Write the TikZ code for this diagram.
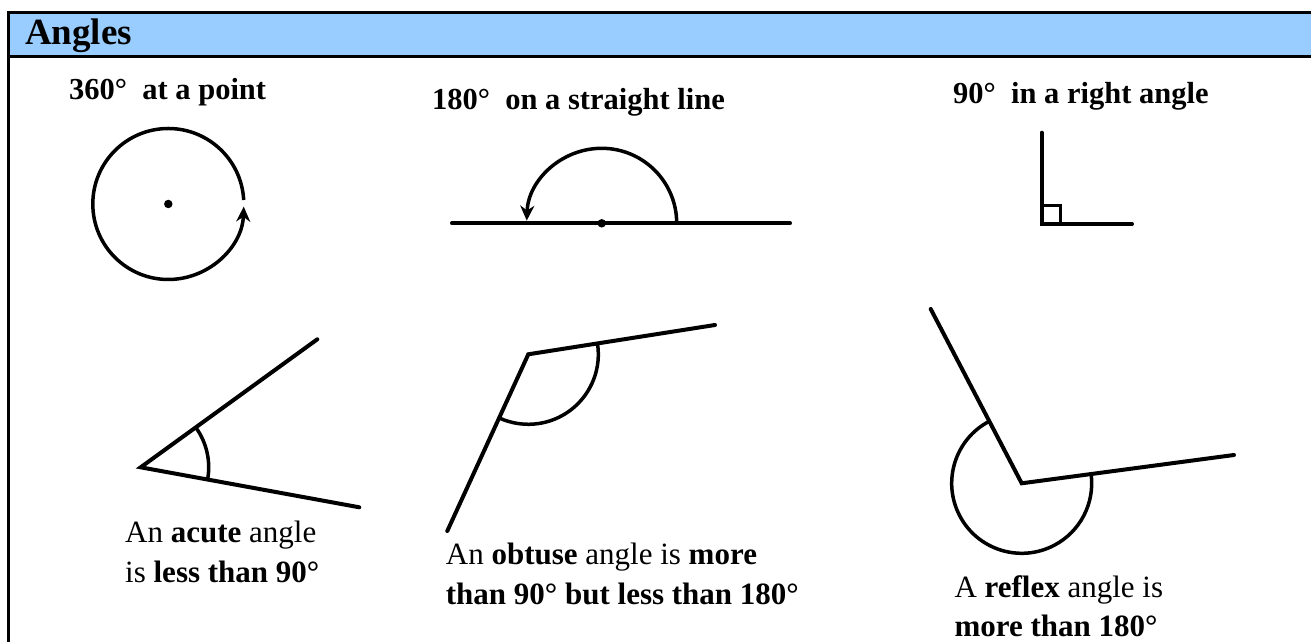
\documentclass[tikz,border=0pt]{standalone}
\usepackage{fontspec}
\setmainfont{Liberation Serif}
\usepackage{xcolor}
\definecolor{headblue}{RGB}{153,204,255}
\usepackage{tikz}
\usetikzlibrary{arrows.meta}

\begin{document}
\begin{tikzpicture}[x=1pt, y=1pt,
    arm/.style={line width=4pt, line cap=round},
    anglearc/.style={line width=3.5pt},
    frameline/.style={line width=3.3pt},
    heading/.style={anchor=base west, inner sep=0pt,
      font=\fontsize{30.5}{36}\selectfont\bfseries},
    caption/.style={anchor=base west, inner sep=0pt, align=left,
      font=\fontsize{31}{40}\selectfont},
    dot/.style={circle, fill, inner sep=0pt, minimum size=8.5pt},
    arrow/.style={-{Stealth[length=15pt, width=14pt]}}
]
\useasboundingbox (0,0) rectangle (1311,642);
\clip (0,0) rectangle (1311,642);

%% Frame and title bar
\fill[headblue] (8.3,585.7) rectangle (1320,629.5);
\draw[frameline] (1320,629.5) -- (8.3,629.5) -- (8.3,-10);
\draw[frameline] (8.3,585.7) -- (1320,585.7);
\node[anchor=base west, inner sep=0pt,
  font=\fontsize{37}{44}\selectfont\bfseries] (title) at (25,597) {Angles};

%% 360 at a point
\node[heading] (full) at (69,542) {360°\hspace{0.5em}at a point};
\coordinate (fullC) at (168.3,438);
\node[dot] (fullO) at (fullC) {};
\draw[anglearc, arrow] (fullC) ++(3:75.5)
  arc[start angle=3, end angle=358, radius=75.5];

%% 180 on a straight line
\node[heading] (half) at (432,532.7) {180°\hspace{0.5em}on a straight line};
\coordinate (halfC) at (601.7,418.7);
\coordinate (halfL) at (452,418.7);
\coordinate (halfR) at (790,418.7);
\draw[arm] (halfL) -- (halfR);
\node[dot] (halfO) at (halfC) {};
\draw[anglearc, arrow] (halfC) ++(0:75)
  arc[start angle=0, end angle=178, radius=75];

%% 90 in a right angle
\node[heading] (right) at (953,538) {90°\hspace{0.5em}in a right angle};
\coordinate (rightV) at (1041.7,418);
\coordinate (rightA) at (1041.7,509.3);
\coordinate (rightB) at (1132,418);
\draw[arm] (rightA) -- (rightV) -- (rightB);
\draw[line width=3pt] (rightV) rectangle ++(18.5,18.5);

%% acute
\coordinate (acuteV) at (140.7,174.7);
\coordinate (acuteA) at (317.3,302.7);
\coordinate (acuteB) at (359.3,134.7);
\draw[arm] (acuteA) -- (acuteV) -- (acuteB);
\draw[anglearc] (acuteV) ++(-10.4:68)
  arc[start angle=-10.4, end angle=35.9, radius=68];
\node[caption] (acuteT) at (125,59)
  {An \textbf{acute} angle\\is \textbf{less than 90°}};

%% obtuse
\coordinate (obtuseV) at (528.3,287.7);
\coordinate (obtuseA) at (715,317);
\coordinate (obtuseB) at (447.3,111);
\draw[arm] (obtuseA) -- (obtuseV) -- (obtuseB);
\draw[anglearc] (obtuseV) ++(8.9:70)
  arc[start angle=8.9, end angle=-114.6, radius=70];
\node[caption] (obtuseT) at (445.7,37)
  {An \textbf{obtuse} angle is \textbf{more}\\\textbf{than 90° but less than 180°}};

%% reflex
\coordinate (reflexV) at (1021.7,158.7);
\coordinate (reflexA) at (930.7,333);
\coordinate (reflexB) at (1234,187);
\draw[arm] (reflexA) -- (reflexV) -- (reflexB);
\draw[anglearc] (reflexV) ++(117.6:70)
  arc[start angle=117.6, end angle=367.6, radius=70];
\node[caption] (reflexT) at (954.3,5)
  {A \textbf{reflex} angle is\\\textbf{more than 180°}};
\end{tikzpicture}
\end{document}
